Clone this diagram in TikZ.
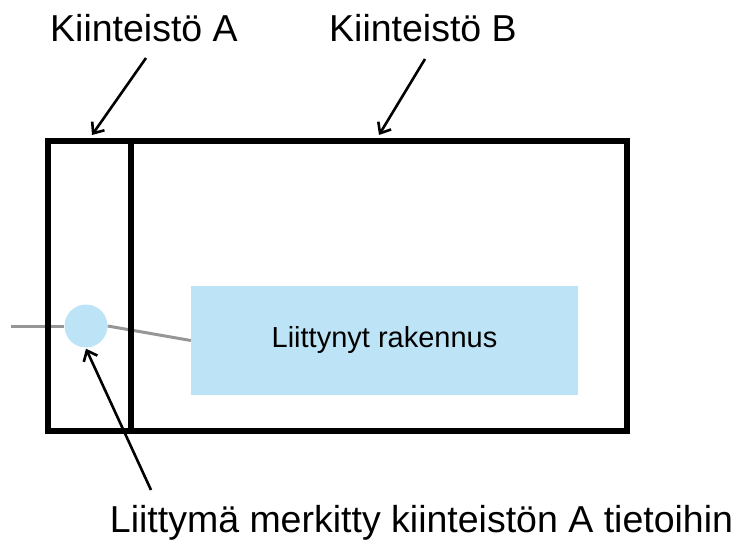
\documentclass[tikz,border=0pt]{standalone}
\usepackage{fontspec}
\setmainfont{Liberation Sans}
\usetikzlibrary{arrows.meta}
\definecolor{lightblue}{HTML}{BDE3F7}
\definecolor{wiregray}{HTML}{969696}
\tikzset{
  plot/.style={draw=black, line width=6bp, rectangle, inner sep=0pt},
  bigtext/.style={font=\fontsize{37.5bp}{40bp}\selectfont, inner sep=0pt, anchor=base},
  pointer/.style={draw=black, line width=2.6bp, -{Straight Barb[length=9bp,width=15bp,line width=2.6bp]}},
  wire/.style={draw=wiregray, line width=3bp}
}
\begin{document}
\begin{tikzpicture}[x=1bp, y=-1bp]
\useasboundingbox (0,0) rectangle (741,542);
% building and connection point
\node[fill=lightblue, inner sep=0pt, minimum width=387bp, minimum height=109bp,
      font=\fontsize{29bp}{31bp}\selectfont] (bldg) at (384.5,340.5) {Liittynyt\ rakennus};
\coordinate (wireend) at (11,326);
\node[circle, fill=lightblue, inner sep=0pt, minimum size=43bp] (conn) at (86,326) {};
\draw[wire] (wireend) -- (conn.west);
\draw[wire] (conn.east) -- (bldg.west);
% properties
\node[plot, minimum width=83.5bp, minimum height=290bp] (propA) at (89.25,286) {};
\node[plot, minimum width=495.5bp, minimum height=290bp] (propB) at (378.75,286) {};
% labels
\node[bigtext] (labA) at (144,42) {Kiinteistö A};
\node[bigtext] (labB) at (423,42) {Kiinteistö B};
\node[bigtext] (labC) at (421.5,532) {Liittymä merkitty kiinteistön A tietoihin};
\coordinate (startA) at (146,58);
\coordinate (startB) at (425,59);
\coordinate (startC) at (151,490);
% pointers
\draw[pointer] (startA) -- ([xshift=2.75bp,yshift=3bp]propA.north);
\draw[pointer] (startB) -- ([xshift=0.25bp,yshift=3bp]propB.north);
\draw[pointer] (startC) -- ([yshift=-1bp]conn.south);
\end{tikzpicture}
\end{document}
